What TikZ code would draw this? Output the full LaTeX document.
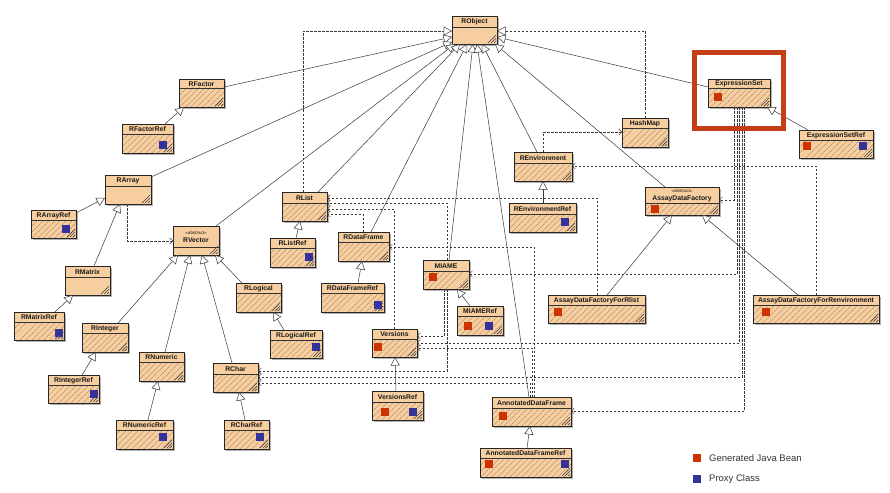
\documentclass[tikz,border=0pt]{standalone}
\usepackage{fontspec}
\setmainfont{Liberation Sans}
\usetikzlibrary{arrows.meta,patterns.meta,calc}
\definecolor{peach}{RGB}{246,206,160}
\definecolor{hatchc}{RGB}{165,130,95}
\definecolor{beanred}{RGB}{204,51,0}
\definecolor{proxyblue}{RGB}{51,51,153}
\definecolor{hilite}{RGB}{198,62,22}
\definecolor{linec}{RGB}{55,55,55}
\tikzset{
  hatch/.style={pattern={Lines[angle=45,distance=4pt,line width=0.5pt]}, pattern color=hatchc},
  nohatch/.style={},
  clsnode/.style={draw=black!85, line width=0.9pt, fill=peach, rectangle, inner sep=0pt, outer sep=0pt, anchor=north west},
  ttl/.style={font=\fontsize{6.8}{7.3}\selectfont\bfseries, text=black!90, inner sep=0pt, align=center},
  gen/.style={draw=linec, line width=0.5pt, -{Triangle[length=8.5pt,width=9pt,fill=white]}},
  real/.style={gen, dash pattern=on 2.5pt off 1.5pt},
  dep/.style={draw=linec, line width=0.5pt, dash pattern=on 2.5pt off 1.5pt, -{Straight Barb[length=3pt,width=6pt]}},
  legtext/.style={font=\fontsize{9.5}{11}\selectfont, text=black!80, inner sep=0pt, anchor=west},
}
\newcommand\clsbox[8]{%
  \fill[black!30] (#2+2,#3+2) rectangle (#4+2,#5+2);
  \pgfmathsetmacro\bw{#4-#2}\pgfmathsetmacro\bh{#5-#3}%
  \node[clsnode, minimum width=\bw pt, minimum height=\bh pt] (#1) at (#2,#3) {};
  \path[#8] (#2,#6) rectangle (#4,#5);
  \draw[black!80, line width=0.6pt] (#2,#6) -- (#4,#6);
  \draw[black!75, line width=0.4pt] (#4-9,#5-1) -- (#4-1,#5-9) (#4-6,#5-1) -- (#4-1,#5-6) (#4-3,#5-1) -- (#4-1,#5-3);
  \draw[black!85, line width=0.9pt] (#1.north west) rectangle (#1.south east);
  \node[ttl] (#1-t) at ({(#2+#4)/2},{(#3+#6)/2+0.5}) {#7};
}
\newcommand\rmark[2]{\fill[beanred] (#1,#2) rectangle ++(8,8);}
\newcommand\bmark[2]{\fill[proxyblue] (#1,#2) rectangle ++(8,8);}
\newcommand\abst[1]{{\fontsize{4.5}{5}\selectfont\mdseries <<abstract>>}\\[1pt]#1}
\begin{document}
\begin{tikzpicture}[x=1pt,y=-1pt]
\fill[white] (0,0) rectangle (890,492);
\useasboundingbox (0,0) rectangle (890,492);

% ---------- classes ----------
\clsbox{RObject}{452}{16}{497}{44}{27}{RObject}{nohatch}
\clsbox{RFactor}{179}{79}{224}{107}{88}{RFactor}{hatch}
\clsbox{RFactorRef}{122}{124}{173}{153}{134}{RFactorRef}{hatch}
\bmark{159}{141}
\clsbox{RArray}{105}{175}{151}{204}{186}{RArray}{nohatch}
\clsbox{RArrayRef}{31}{210}{76}{238}{220}{RArrayRef}{hatch}
\bmark{62}{225}
\clsbox{RVector}{173}{226}{219}{255}{247}{\abst{RVector}}{nohatch}
\clsbox{RMatrix}{65}{266}{110}{295}{277}{RMatrix}{nohatch}
\clsbox{RMatrixRef}{14}{312}{64}{340}{322}{RMatrixRef}{hatch}
\bmark{55}{329}
\clsbox{RLogical}{236}{283}{281}{312}{293}{RLogical}{hatch}
\clsbox{RLogicalRef}{270}{330}{322}{358}{340}{RLogicalRef}{hatch}
\bmark{312}{343}
\clsbox{RList}{282}{192}{327}{221}{203}{RList}{hatch}
\clsbox{RListRef}{270}{238}{315}{267}{248}{RListRef}{hatch}
\bmark{305}{253}
\clsbox{RDataFrame}{338}{232}{389}{261}{242}{RDataFrame}{hatch}
\clsbox{RDataFrameRef}{321}{283}{384}{312}{293}{RDataFrameRef}{hatch}
\bmark{374}{301}
\clsbox{MIAME}{423}{260}{469}{289}{271}{MIAME}{hatch}
\rmark{429}{273}
\clsbox{MIAMERef}{457}{306}{503}{335}{316}{MIAMERef}{hatch}
\rmark{464}{322}\bmark{485}{322}
\clsbox{REnvironment}{514}{152}{572}{181}{163}{REnvironment}{hatch}
\clsbox{REnvironmentRef}{509}{203}{576}{232}{214}{REnvironmentRef}{hatch}
\bmark{561}{218}
\clsbox{HashMap}{622}{118}{668}{147}{128}{HashMap}{hatch}
\clsbox{ExpressionSet}{708}{79}{770}{107}{88}{ExpressionSet}{hatch}
\rmark{714}{93}
\clsbox{ExpressionSetRef}{799}{130}{873}{158}{140}{ExpressionSetRef}{hatch}
\rmark{803}{142}\bmark{859}{142}
\clsbox{AssayDataFactory}{645}{187}{719}{215}{203}{\abst{AssayDataFactory}}{hatch}
\rmark{651}{205}
\clsbox{AssayDataFactoryForRlist}{548}{295}{645}{323}{305}{AssayDataFactoryForRlist}{hatch}
\rmark{554}{308}
\clsbox{AssayDataFactoryForRenvironment}{753}{295}{879}{323}{305}{AssayDataFactoryForRenvironment}{hatch}
\rmark{762}{308}
\clsbox{RInteger}{82}{323}{128}{352}{333}{RInteger}{hatch}
\clsbox{RIntegerRef}{48}{375}{99}{403}{385}{RIntegerRef}{hatch}
\bmark{90}{390}
\clsbox{RNumeric}{139}{352}{184}{381}{362}{RNumeric}{hatch}
\clsbox{RNumericRef}{116}{420}{173}{449}{430}{RNumericRef}{hatch}
\bmark{159}{433}
\clsbox{RChar}{213}{363}{258}{392}{374}{RChar}{hatch}
\clsbox{RCharRef}{224}{420}{269}{449}{430}{RCharRef}{hatch}
\bmark{256}{433}
\clsbox{Versions}{372}{329}{417}{357}{339}{Versions}{hatch}
\rmark{374}{343}
\clsbox{VersionsRef}{372}{391}{423}{420}{402}{VersionsRef}{hatch}
\rmark{381}{408}\bmark{409}{408}
\clsbox{AnnotatedDataFrame}{492}{397}{571}{426}{408}{AnnotatedDataFrame}{hatch}
\rmark{499}{412}
\clsbox{AnnotatedDataFrameRef}{480}{448}{571}{477}{458}{AnnotatedDataFrameRef}{hatch}
\rmark{485}{460}\bmark{561}{460}

% ---------- generalizations to RObject ----------
\draw[gen] (RFactor.east |- 0,87) -- (RObject.west |- 0,37);
\draw[gen] (RArray.east |- 0,177) -- (RObject.west |- 0,42);
\draw[gen] (RVector.north -| 216,0) -- (RObject.south -| 455,0);
\draw[gen] (RList.north -| 318,0) -- (RObject.south -| 460,0);
\draw[gen] (RDataFrame.north -| 371,0) -- (RObject.south -| 467,0);
\draw[gen] (MIAME.north -| 449,0) -- (RObject.south -| 473,0);
\draw[gen] (AnnotatedDataFrame.north -| 529,0) -- (RObject.south -| 477,0);
\draw[gen] (REnvironment.north -| 537,0) -- (RObject.south -| 482,0);
\draw[gen] (AssayDataFactory.north -| 665,0) -- (RObject.south -| 495,0);
\draw[gen] (ExpressionSet.west |- 0,87) -- (RObject.east |- 0,37);
\draw[real] (HashMap.north -| 645,0) |- (RObject.east |- 0,31);
\draw[real] (RList.north -| 303,0) |- (RObject.west |- 0,31);

% ---------- other generalizations ----------
\draw[gen] (RFactorRef.north -| 165,0) -- (RFactor.south -| 184,0);
\draw[gen] (RArrayRef.east |- 0,213) -- (RArray.west |- 0,198);
\draw[gen] (RMatrix.north -| 94,0) -- (RArray.south -| 120,0);
\draw[gen] (RMatrixRef.north -| 55,0) -- (RMatrix.south -| 73,0);
\draw[gen] (RInteger.north -| 118,0) -- (RVector.south -| 178,0);
\draw[gen] (RNumeric.north -| 165,0) -- (RVector.south -| 190,0);
\draw[gen] (RChar.north -| 232,0) -- (RVector.south -| 202,0);
\draw[gen] (RLogical.north -| 242,0) -- (RVector.south -| 215,0);
\draw[gen] (RListRef.north -| 296,0) -- (RList.south -| 300,0);
\draw[gen] (RDataFrameRef.north -| 358,0) -- (RDataFrame.south -| 362,0);
\draw[gen] (RLogicalRef.north -| 284,0) -- (RLogical.south -| 273,0);
\draw[gen] (RIntegerRef.north -| 82,0) -- (RInteger.south -| 96,0);
\draw[gen] (RNumericRef.north -| 148,0) -- (RNumeric.south -| 158,0);
\draw[gen] (RCharRef.north -| 245,0) -- (RChar.south -| 239,0);
\draw[gen] (MIAMERef.north -| 470,0) -- (MIAME.south -| 457,0);
\draw[gen] (VersionsRef.north -| 396,0) -- (Versions.south -| 395,0);
\draw[gen] (AnnotatedDataFrameRef.north -| 527,0) -- (AnnotatedDataFrame.south -| 530,0);
\draw[gen] (REnvironmentRef.north -| 543,0) -- (REnvironment.south -| 543,0);
\draw[gen] (ExpressionSetRef.north -| 808,0) -- (ExpressionSet.south -| 767,0);
\draw[gen] (AssayDataFactoryForRlist.north -| 607,0) -- (AssayDataFactory.south -| 672,0);
\draw[gen] (AssayDataFactoryForRenvironment.north -| 798,0) -- (AssayDataFactory.south -| 702,0);

% ---------- dependencies ----------
\draw[dep] (RArray.south -| 127,0) |- (RVector.west |- 0,241);
\draw[dep] (REnvironment.north -| 543,0) |- (HashMap.west |- 0,132);
\draw[dep] (AssayDataFactoryForRenvironment.north -| 816,0) |- (REnvironment.east |- 0,166);
\draw[dep] (ExpressionSet.south -| 734,0) |- (AssayDataFactory.east |- 0,200);
\draw[dep] (ExpressionSet.south -| 737,0) |- (MIAME.east |- 0,274);
\draw[dep] (ExpressionSet.south -| 739,0) |- (Versions.east |- 0,343);
\draw[dep] (ExpressionSet.south -| 742,0) |- (RChar.east |- 0,377);
\draw[dep] (ExpressionSet.south -| 744,0) |- (AnnotatedDataFrame.east |- 0,411);
\draw[dep] (AssayDataFactoryForRlist.north -| 597,0) |- (RList.east |- 0,198);
\draw[dep] (MIAME.north -| 447,0) |- (RList.east |- 0,203);
\draw[dep] (Versions.north -| 394,0) |- (RList.east |- 0,209);
\draw[dep] (RDataFrame.north -| 363,0) |- (RList.east |- 0,214);
\draw[dep] (AnnotatedDataFrame.north -| 534,0) |- (RDataFrame.east |- 0,247);
\draw[dep] (MIAME.south -| 444,0) |- (Versions.east |- 0,336);
\draw[dep] (MIAME.south -| 447,0) |- (RChar.east |- 0,371);
\draw[dep] (AnnotatedDataFrame.north -| 532,0) |- (Versions.east |- 0,348);
\draw[dep] (AnnotatedDataFrame.north -| 530,0) |- (RChar.east |- 0,383);

% ---------- highlight ----------
\draw[hilite, line width=5pt] (694,53) rectangle (783,128);

% ---------- legend ----------
\fill[beanred] (693,454) rectangle ++(8,8);
\node[legtext] (legbean) at (709,458) {Generated Java Bean};
\fill[proxyblue] (693,475) rectangle ++(8,8);
\node[legtext] (legproxy) at (709,479) {Proxy Class};
\end{tikzpicture}
\end{document}
